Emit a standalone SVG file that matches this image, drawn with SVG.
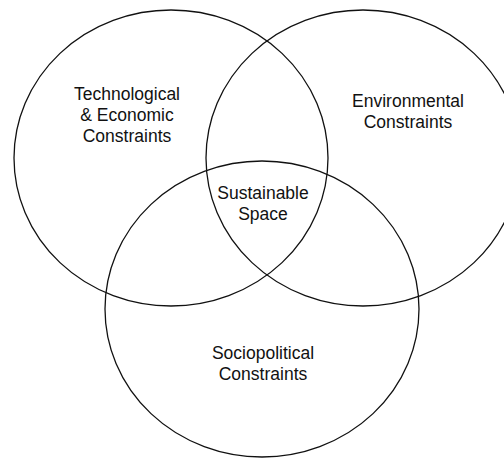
<svg xmlns="http://www.w3.org/2000/svg" width="504" height="458" viewBox="0 0 504 458">
<style>
.set{fill:none;stroke:#111;stroke-width:1.3}
.lbl{font-family:"Liberation Sans",Arial,sans-serif;font-size:17.5px;fill:#111;text-anchor:middle}
</style>
<rect width="504" height="458" fill="#fff"/>
<g id="tech">
<ellipse class="set" cx="171" cy="158" rx="157" ry="148"/>
<text class="lbl" x="127" y="100">Technological</text>
<text class="lbl" x="127" y="121">&amp; Economic</text>
<text class="lbl" x="127" y="142">Constraints</text>
</g>
<g id="env">
<ellipse class="set" cx="363" cy="158" rx="157" ry="148"/>
<text class="lbl" x="408" y="107">Environmental</text>
<text class="lbl" x="408" y="128">Constraints</text>
</g>
<g id="socio">
<ellipse class="set" cx="262" cy="309" rx="157" ry="148"/>
<text class="lbl" x="263" y="359">Sociopolitical</text>
<text class="lbl" x="263" y="380">Constraints</text>
</g>
<g id="sustainable">
<text class="lbl" x="263" y="199">Sustainable</text>
<text class="lbl" x="263" y="220">Space</text>
</g>
</svg>
